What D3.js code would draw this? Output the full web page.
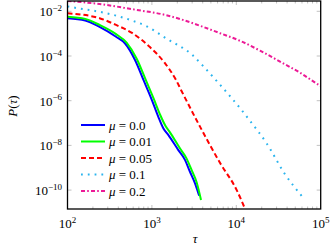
<!DOCTYPE html>
<html>
<head>
<meta charset="utf-8">
<script src="https://cdn.jsdelivr.net/npm/d3@7"></script>
<style>
  body { margin: 0; background: #fff; }
  svg { display: block; }
  text { font-family: "Liberation Serif", "DejaVu Serif", serif; fill: #000; }
</style>
</head>
<body>
<svg id="chart" width="336" height="248"></svg>
<script>
// values, as [log10(tau), log10(P)]
const mu00 = [[2.0,-2.31],[2.21,-2.41],[2.38,-2.70],[2.575,-3.14],[2.68,-3.43],[2.80,-4.18],[2.90,-5.07],[3.0,-5.97],[3.076,-6.72],[3.135,-7.23],[3.194,-7.53],[3.313,-8.21],[3.392,-8.65],[3.451,-9.18],[3.511,-9.70],[3.55,-10.14],[3.56,-10.25]];
const mu01 = [[2.0,-2.24],[2.21,-2.34],[2.38,-2.61],[2.575,-3.02],[2.70,-3.40],[2.82,-4.12],[2.92,-5.0],[3.02,-5.9],[3.10,-6.65],[3.16,-7.12],[3.22,-7.45],[3.33,-8.12],[3.41,-8.58],[3.47,-9.10],[3.53,-9.65],[3.582,-10.44]];
const mu05 = [[2.0,-2.09],[2.38,-2.31],[2.575,-2.61],[2.77,-2.98],[2.97,-3.58],[3.15,-4.30],[3.285,-5.07],[3.345,-5.52],[3.57,-7.16],[3.81,-8.80],[4.005,-10.0],[4.10,-10.81]];
const mu10 = [[2.0,-1.78],[2.15,-1.88],[2.377,-2.02],[2.77,-2.42],[2.938,-2.67],[3.167,-3.21],[3.48,-3.96],[3.602,-4.43],[3.775,-5.15],[4.052,-6.37],[4.154,-6.86],[4.36,-7.91],[4.577,-9.29],[4.775,-10.26]];
const mu20 = [[2.0,-1.54],[2.377,-1.67],[2.773,-1.91],[3.167,-2.17],[3.602,-2.69],[3.807,-2.98],[4.044,-3.32],[4.281,-3.76],[4.518,-4.25],[4.755,-4.75],[4.983,-5.31],[5.0,-5.35]];

const seriesNames = ["0.0", "0.01", "0.05", "0.1", "0.2"];
const xTicks = [2, 3, 4, 5];
const yTicks = [-2, -4, -6, -8, -10];

const styles = [
  { color: "#0000ff", dash: null },
  { color: "#00ff00", dash: null },
  { color: "#ff0000", dash: "5,3" },
  { color: "#2ab4ee", dash: "1.8,5" },
  { color: "#ec1a96", dash: "4,2.2,1.6,2.2" }
];

const svg = d3.select("#chart");
const plotLeft = 67.5, plotRight = 320.7, plotTop = 1, plotBottom = 209;
const FS = 13, FS_SUP = 9;

const x = d3.scaleLog().domain([1e2, 1e5]).range([plotLeft, plotRight]);
const y = d3.scaleLog().domain([Math.pow(10, -10.846), Math.pow(10, -1.539)]).range([plotBottom, plotTop]);

svg.append("clipPath").attr("id", "clip")
  .append("rect").attr("x", plotLeft).attr("y", plotTop)
  .attr("width", plotRight - plotLeft).attr("height", plotBottom - plotTop);

// minor + major ticks on x (bottom and top, inside)
const tickG = svg.append("g").attr("stroke", "#999").attr("stroke-width", 0.6);
for (let e = 2; e < 5; e++) {
  for (let m = 1; m <= 9; m++) {
    const v = m * Math.pow(10, e);
    const len = m === 1 ? 4 : 2.5;
    tickG.append("line").attr("x1", x(v)).attr("x2", x(v)).attr("y1", plotBottom).attr("y2", plotBottom - len);
    tickG.append("line").attr("x1", x(v)).attr("x2", x(v)).attr("y1", plotTop).attr("y2", plotTop + len);
  }
}
yTicks.forEach(t => {
  const yy = y(Math.pow(10, t));
  tickG.append("line").attr("x1", plotLeft).attr("x2", plotLeft + 4).attr("y1", yy).attr("y2", yy);
  tickG.append("line").attr("x1", plotRight).attr("x2", plotRight - 4).attr("y1", yy).attr("y2", yy);
});

// curves
const line = d3.line()
  .x(d => x(Math.pow(10, d[0])))
  .y(d => y(Math.pow(10, d[1])))
  .curve(d3.curveMonotoneX);

const plotG = svg.append("g").attr("clip-path", "url(#clip)");
[mu00, mu01, mu05, mu10, mu20].forEach((data, i) => {
  const p = plotG.append("path")
    .attr("d", line(data))
    .attr("fill", "none")
    .attr("stroke", styles[i].color)
    .attr("stroke-width", 2);
  if (styles[i].dash) p.attr("stroke-dasharray", styles[i].dash);
});

// frame
svg.append("rect")
  .attr("x", plotLeft).attr("y", plotTop)
  .attr("width", plotRight - plotLeft).attr("height", plotBottom - plotTop)
  .attr("fill", "none").attr("stroke", "#000").attr("stroke-width", 1.3);

// x tick labels
xTicks.forEach(e => {
  const t = svg.append("text").attr("x", x(Math.pow(10, e))).attr("y", 228)
    .attr("text-anchor", "middle").attr("font-size", FS);
  t.append("tspan").text("10");
  t.append("tspan").attr("dy", -5.5).attr("font-size", FS_SUP).text(e);
});

// y tick labels
yTicks.forEach(e => {
  const t = svg.append("text").attr("x", 62).attr("y", y(Math.pow(10, e)) + 5)
    .attr("text-anchor", "end").attr("font-size", FS);
  t.append("tspan").text("10");
  t.append("tspan").attr("dy", -5.5).attr("font-size", FS_SUP).text("\u2212" + (-e));
});

// axis labels
svg.append("text").attr("x", 195).attr("y", 243).attr("text-anchor", "middle")
  .attr("font-size", FS).attr("font-style", "italic").text("\u03c4");

const yl = svg.append("text").attr("transform", "translate(17,106) rotate(-90)")
  .attr("text-anchor", "middle").attr("font-size", FS);
yl.append("tspan").attr("font-style", "italic").text("P");
yl.append("tspan").text("(");
yl.append("tspan").attr("font-style", "italic").text("\u03c4");
yl.append("tspan").text(")");

// legend
const legend = svg.append("g");
seriesNames.forEach((name, i) => {
  const yy = 125 + i * 16.5;
  const l = legend.append("line")
    .attr("x1", 81).attr("x2", 105).attr("y1", yy).attr("y2", yy)
    .attr("stroke", styles[i].color).attr("stroke-width", 2);
  if (styles[i].dash) l.attr("stroke-dasharray", styles[i].dash);
  const t = legend.append("text").attr("x", 109).attr("y", yy + 4.5).attr("font-size", FS);
  t.append("tspan").attr("font-style", "italic").text("\u03bc");
  t.append("tspan").text(" = " + name);
});
</script>
</body>
</html>
